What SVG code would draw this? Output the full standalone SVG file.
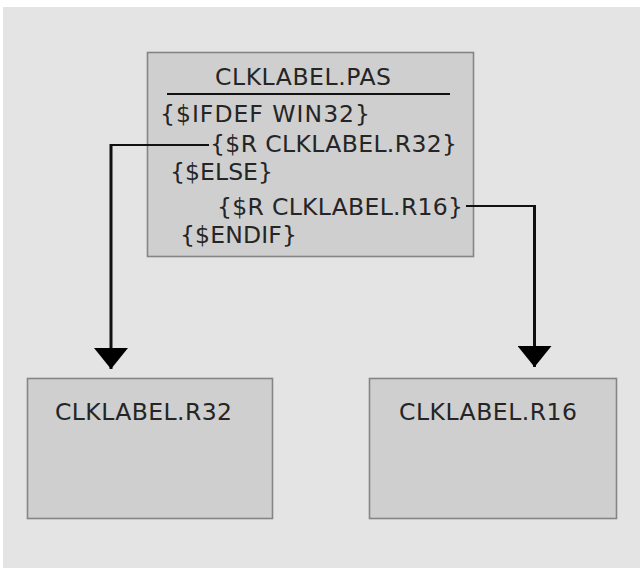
<svg xmlns="http://www.w3.org/2000/svg" width="640" height="568" viewBox="0 0 640 568">
<defs>
<style>
.box{fill:#cfcfcf;stroke:#858585;stroke-width:1.6}
.t{font-family:"DejaVu Sans","Liberation Sans",sans-serif;font-size:23.5px;fill:#252525}
.wire{fill:none;stroke:#111;stroke-width:2.2}
.wire2{fill:none;stroke:#111;stroke-width:3}
</style>
<marker id="ah" viewBox="0 0 21 34" refX="21" refY="17" markerWidth="21" markerHeight="34" markerUnits="userSpaceOnUse" orient="auto">
<path d="M0,0 L21,17 L0,34 Z" fill="#000"/>
</marker>
</defs>
<rect x="0" y="0" width="640" height="568" fill="#ffffff"/>
<rect x="3" y="7" width="637" height="561" fill="#e4e4e4"/>
<g id="pas">
<rect class="box" x="147.5" y="52.5" width="326" height="204"/>
<text class="t" x="215" y="85" textLength="176">CLKLABEL.PAS</text>
<line x1="167" y1="94" x2="450" y2="94" stroke="#111" stroke-width="2.2"/>
<text class="t" x="160" y="122" textLength="210">{$IFDEF WIN32}</text>
<text class="t" x="210" y="152" textLength="247">{$R CLKLABEL.R32}</text>
<text class="t" x="170" y="180" textLength="103">{$ELSE}</text>
<text class="t" x="217" y="215" textLength="246">{$R CLKLABEL.R16}</text>
<text class="t" x="180" y="243" textLength="117">{$ENDIF}</text>
</g>
<g id="r32">
<rect class="box" x="27.5" y="378.5" width="245" height="140"/>
<text class="t" x="55" y="420" textLength="177">CLKLABEL.R32</text>
</g>
<g id="r16">
<rect class="box" x="369.5" y="378.5" width="247" height="140"/>
<text class="t" x="399" y="420" textLength="178">CLKLABEL.R16</text>
</g>
<g id="connectors">
<path class="wire" d="M209,145 L111,145"/>
<path class="wire2" d="M111,144 L111,369" marker-end="url(#ah)"/>
<path class="wire" d="M466,206 L534.5,206"/>
<path class="wire2" d="M534.5,205 L534.5,367" marker-end="url(#ah)"/>
</g>
</svg>
